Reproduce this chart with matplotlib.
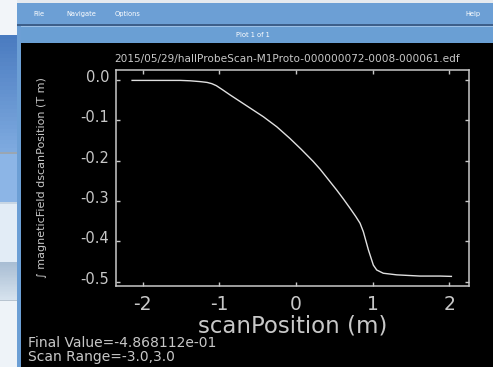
import numpy as np
import matplotlib
matplotlib.use("Agg")
import matplotlib.pyplot as plt
from matplotlib.patches import Rectangle
from matplotlib.transforms import ScaledTranslation

# scan data
scan_pos = [-2.14, -1.8, -1.51, -1.38, -1.25, -1.16, -1.1, -1.04, -0.96, -0.86, -0.643,
            -0.426, -0.25, -0.078, 0.07, 0.226, 0.315, 0.42, 0.533, 0.62, 0.707,
            0.78, 0.837, 0.88, 0.946, 1.011, 1.055, 1.14, 1.316, 1.62, 1.88, 2.03]
field_int = [-0.001, -0.001, -0.001, -0.002, -0.004, -0.006, -0.009, -0.014, -0.024, -0.037, -0.064,
             -0.091, -0.116, -0.145, -0.172, -0.202, -0.221, -0.246, -0.273, -0.295, -0.318,
             -0.338, -0.355, -0.376, -0.421, -0.459, -0.471, -0.479, -0.483, -0.486, -0.486, -0.4868]
xticks = [-2, -1, 0, 1, 2]
yticks = [0.0, -0.1, -0.2, -0.3, -0.4, -0.5]
ytick_labels = ["0.0", "-0.1", "-0.2", "-0.3", "-0.4", "-0.5"]

title = "2015/05/29/hallProbeScan-M1Proto-000000072-0008-000061.edf"
final_value = "Final Value=-4.868112e-01"
scan_range = "Scan Range=-3.0,3.0"

W, H = 493, 367
plt.rcParams['font.family'] = ['DejaVu Sans']
fig = plt.figure(figsize=(W / 100, H / 100), dpi=100)
fig.patch.set_facecolor("#f2f5f9")


def box(x, y, w, h, color, **kw):
    # pixel box, y measured from the top
    fig.add_artist(Rectangle((x / W, 1 - (y + h) / H), w / W, h / H,
                             transform=fig.transFigure, facecolor=color,
                             edgecolor="none", zorder=-5, **kw))


def ftext(x, y, s, **kw):
    fig.text(x / W, 1 - y / H, s, **kw)


# desktop strip on the left
def grad(x, y, w, h, c1, c2, n=30):
    c1 = np.array(matplotlib.colors.to_rgb(c1))
    c2 = np.array(matplotlib.colors.to_rgb(c2))
    for i in range(n):
        t = i / (n - 1)
        box(x, y + i * h / n, w, h / n + 0.5, tuple(c1 + (c2 - c1) * t))


grad(0, 35, 17, 117, "#4a7bc0", "#7eaadf")
box(0, 152, 17, 2, "#9aa6b2")
box(0, 154, 17, 48, "#8cb5e6")
box(0, 202, 17, 2, "#c8d6e4")
box(0, 204, 17, 58, "#e2ecf6")
grad(0, 262, 17, 38, "#a8bdd3", "#d6e2ee")
box(0, 300, 17, 1, "#b8c4d0")
box(0, 301, 17, 66, "#eef3f8")

# window chrome
box(17, 0, 476, 3, "#e6eaef")
box(17, 3, 476, 364, "#6c9fd5")
box(17, 24, 476, 2, "#3d5f8a")
box(21, 27, 472, 16, "#6a9fd4")
box(21, 26, 472, 1, "#9cc0e6")
box(21, 43, 472, 324, "black")

menu_kw = dict(color="white", fontsize=4.8, va="center")
ftext(33, 14, "File", **menu_kw)
ftext(66, 14, "Navigate", **menu_kw)
ftext(115, 14, "Options", **menu_kw)
ftext(465, 14, "Help", **menu_kw)
ftext(253, 35, "Plot 1 of 1", ha="center", **menu_kw)

# plot
fg = "#c8c8c8"
ax = fig.add_axes([116 / W, 1 - 285.7 / H, (469 - 116) / W, (285.7 - 70) / H])
ax.set_zorder(5)
ax.set_facecolor("black")
ax.plot(scan_pos, field_int, color="#e0e0e0", linewidth=1.0)
ax.set_xlim(-2.35, 2.26)
ax.set_ylim(-0.5099, 0.0248)
ax.set_xticks(xticks)
ax.set_xticklabels([str(t) for t in xticks])
ax.set_yticks(yticks)
ax.set_yticklabels(ytick_labels)
for s in ax.spines.values():
    s.set_color(fg)
    s.set_linewidth(1.1)
ax.tick_params(direction="in", length=3, width=1, color=fg, top=True, right=True)
ax.tick_params(axis="x", labelsize=13.5, labelcolor=fg, pad=7)
ax.tick_params(axis="y", labelsize=10.5, labelcolor=fg, pad=5)
for lab in ax.get_yticklabels():
    lab.set_transform(lab.get_transform() + ScaledTranslation(0, 4 / 100, fig.dpi_scale_trans))

ax.set_xlabel("scanPosition (m)", fontsize=16.5, color=fg, labelpad=0)
ax.set_ylabel("\u222b magneticField dscanPosition (T m)", fontsize=8, color=fg)
ax.yaxis.set_label_coords(-0.195, 0.5)
ax.set_title(title, fontsize=7.6, color=fg, pad=6)
ax.title.set_x(0.486)

ftext(28, 343, final_value, fontsize=10, color=fg, va="center")
ftext(28, 357, scan_range, fontsize=10, color=fg, va="center")

fig.savefig("out.png", dpi=100, facecolor=fig.get_facecolor())
